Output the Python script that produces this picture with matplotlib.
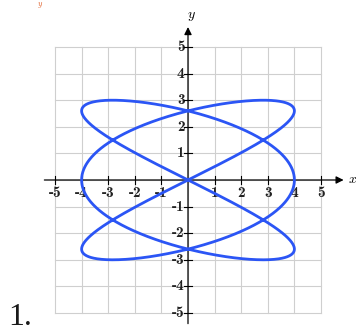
import numpy as np
import matplotlib
matplotlib.use("Agg")
import matplotlib.pyplot as plt

# Parametric curve parameters: x = A sin(a t), y = B sin(b t)
amp_x = 4
amp_y = 3
freq_x = 3
freq_y = 2
tick_values = [-5, -4, -3, -2, -1, 1, 2, 3, 4, 5]
tick_labels = ["-5", "-4", "-3", "-2", "-1", "1", "2", "3", "4", "5"]

fig = plt.figure(figsize=(3.56, 3.32), dpi=100)
ax = fig.add_axes([55/356, 19/332, 266/356, 266/332])
ax.set_xlim(-5, 5)
ax.set_ylim(-5, 5)
ax.axis("off")

grid_c = "#cfcfcf"
for v in range(-5, 6):
    ax.plot([v, v], [-5, 5], color=grid_c, lw=0.8, zorder=1, clip_on=False)
    ax.plot([-5, 5], [v, v], color=grid_c, lw=0.8, zorder=1, clip_on=False)

# axes with arrows
ax.annotate("", xy=(5.85, 0), xytext=(-5.4, 0),
            arrowprops=dict(arrowstyle="-|>", color="black", lw=0.9, mutation_scale=11,
                            shrinkA=0, shrinkB=0), annotation_clip=False, zorder=3)
ax.annotate("", xy=(0, 5.75), xytext=(0, -5.4),
            arrowprops=dict(arrowstyle="-|>", color="black", lw=0.9, mutation_scale=11,
                            shrinkA=0, shrinkB=0), annotation_clip=False, zorder=3)

tl = 0.14
for v, lab in zip(tick_values, tick_labels):
    ax.plot([v, v], [-tl, tl], color="black", lw=0.8, zorder=3, clip_on=False)
    ax.plot([-tl, tl], [v, v], color="black", lw=0.8, zorder=3, clip_on=False)
    ax.annotate(lab, (v, 0), xytext=(0, -9.5), textcoords="offset points",
                ha="center", va="center", fontsize=11, family="cmb10", zorder=2,
                color="#222222", annotation_clip=False)
    ax.annotate(lab, (0, v), xytext=(-2.5, 0), textcoords="offset points",
                ha="right", va="center", fontsize=11, family="cmb10", zorder=2,
                color="#222222", annotation_clip=False)

ax.text(6.2, 0, "x", family="cmmi10", fontsize=10, ha="center", va="center", clip_on=False)
ax.text(0.1, 6.2, "y", family="cmmi10", fontsize=10, ha="center", va="center", clip_on=False)

t = np.linspace(0, 2*np.pi, 2000)
ax.plot(amp_x*np.sin(freq_x*t), amp_y*np.sin(freq_y*t), color="#2b55f5", lw=2.0,
        zorder=4, clip_on=False, solid_capstyle="round")

fig.text(8/356, 1 - 325/332, "1.", family="Liberation Serif", fontsize=23,
         ha="left", va="baseline", color="#1a1a1a")
fig.text(38/356, 1 - 0.5/332, "y", family="cmmi10", fontsize=6, color="#e0602a",
         ha="left", va="top")

fig.savefig("out.png", dpi=100)
